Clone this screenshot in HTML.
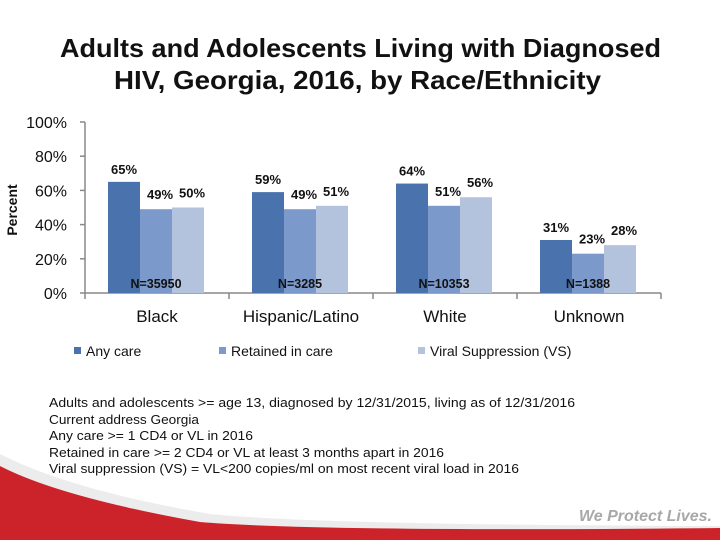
<!DOCTYPE html>
<html><head><meta charset="utf-8"><style>
body{margin:0;width:720px;height:540px;overflow:hidden;background:#fff;font-family:"Liberation Sans",sans-serif}
</style></head><body>
<svg width="720" height="540" id="svg" font-family="Liberation Sans, sans-serif">
<path d="M0,454 Q70,490 210,514 Q320,525 720,526 L720,528 Q320,532 200,522 Q60,497 0,466 Z" fill="#ececec"/>
<path d="M0,466 Q60,497 200,522 Q320,532 720,528 L720,540 L0,540 Z" fill="#cc2229"/>
<text x="60" y="57" textLength="601" lengthAdjust="spacingAndGlyphs" font-size="26" font-weight="bold" fill="#111">Adults and Adolescents Living with Diagnosed</text>
<text x="114" y="89" textLength="487" lengthAdjust="spacingAndGlyphs" font-size="26" font-weight="bold" fill="#111">HIV, Georgia, 2016, by Race/Ethnicity</text>
<text transform="translate(17,210) rotate(-90)" text-anchor="middle" font-size="14" font-weight="bold" fill="#111">Percent</text>
<g id="plot"></g>
<g font-size="14" fill="#111">
<rect x="74" y="347" width="7" height="7" fill="#4a72ad"/>
<text x="86" y="356">Any care</text>
<rect x="219" y="347" width="7" height="7" fill="#7b9acb"/>
<text x="231" y="356">Retained in care</text>
<rect x="418" y="347" width="7" height="7" fill="#b3c3de"/>
<text x="430" y="356">Viral Suppression (VS)</text>
</g>
<g font-size="13" fill="#111">
<text x="49" y="407" textLength="526" lengthAdjust="spacingAndGlyphs">Adults and adolescents &gt;= age 13, diagnosed by 12/31/2015, living as of 12/31/2016</text>
<text x="49" y="424" textLength="150" lengthAdjust="spacingAndGlyphs">Current address Georgia</text>
<text x="49" y="440" textLength="204" lengthAdjust="spacingAndGlyphs">Any care &gt;= 1 CD4 or VL in 2016</text>
<text x="49" y="457" textLength="395" lengthAdjust="spacingAndGlyphs">Retained in care &gt;= 2 CD4 or VL at least 3 months apart in 2016</text>
<text x="49" y="473" textLength="470" lengthAdjust="spacingAndGlyphs">Viral suppression (VS) = VL&lt;200 copies/ml on most recent viral load in 2016</text>
</g>
<text x="712" y="521" text-anchor="end" font-size="16" font-style="italic" font-weight="bold" fill="#a8a8a8">We Protect Lives.</text>
</svg>
<script>
const categories=["Black","Hispanic/Latino","White","Unknown"];
const anyCare=[65,59,64,31];
const retained=[49,49,51,23];
const viralSupp=[50,51,56,28];
const nLabels=["N=35950","N=3285","N=10353","N=1388"];
const yTicks=[0,20,40,60,80,100];
const NS="http://www.w3.org/2000/svg";
const g=document.getElementById('plot');
const x0=85,x1=661,yBase=293,yTop=122;
const y=v=>yBase-(yBase-yTop)*v/100;
const cw=(x1-x0)/categories.length;
const mk=(t,a)=>{const e=document.createElementNS(NS,t);for(const k in a)e.setAttribute(k,a[k]);g.appendChild(e);return e;};
let e;
e=mk('line',{x1:x0,y1:yTop,x2:x0,y2:yBase,stroke:'#888','stroke-width':1.5});


e=mk('line',{x1:x0,y1:yBase,x2:x1,y2:yBase,stroke:'#888','stroke-width':1.5});


yTicks.forEach(t=>{
 e=mk('line',{x1:x0-5,y1:y(t),x2:x0,y2:y(t),stroke:'#888','stroke-width':1.5});
 
 
 e=mk('text',{x:67,y:y(t)+6,'text-anchor':'end','font-size':16,fill:'#111'});
 e.textContent=t+'%';
 
 
});
for(let i=0;i<=categories.length;i++){
 e=mk('line',{x1:x0+i*cw,y1:yBase,x2:x0+i*cw,y2:yBase+6,stroke:'#888','stroke-width':1.5});
 
 
}
const series=[[anyCare,'#4a72ad','any-care'],[retained,'#7b9acb','retained'],[viralSupp,'#b3c3de','vs']];
categories.forEach((c,i)=>{
 const gx=x0+i*cw+23;
 series.forEach((s,j)=>{
  const v=s[0][i],bx=gx+j*32;
  e=mk('rect',{x:bx,y:y(v),width:32,height:yBase-y(v),fill:s[1]});
  
  
  e=mk('text',{x:bx+16+(j==0?0:4),y:y(v)-8-(j>0?2:0),'text-anchor':'middle','font-size':13,'font-weight':'bold',fill:'#111'});
  e.textContent=v+'%';
  
  
 });
 e=mk('text',{x:gx+48,y:yBase-5,'text-anchor':'middle','font-size':12.5,'font-weight':'bold',fill:'#111'});
 e.textContent=nLabels[i];
 
 
 e=mk('text',{x:x0+i*cw+cw/2,y:322,'text-anchor':'middle','font-size':17,fill:'#111'});
 e.textContent=c;
 
 
});
</script>
</body></html>
